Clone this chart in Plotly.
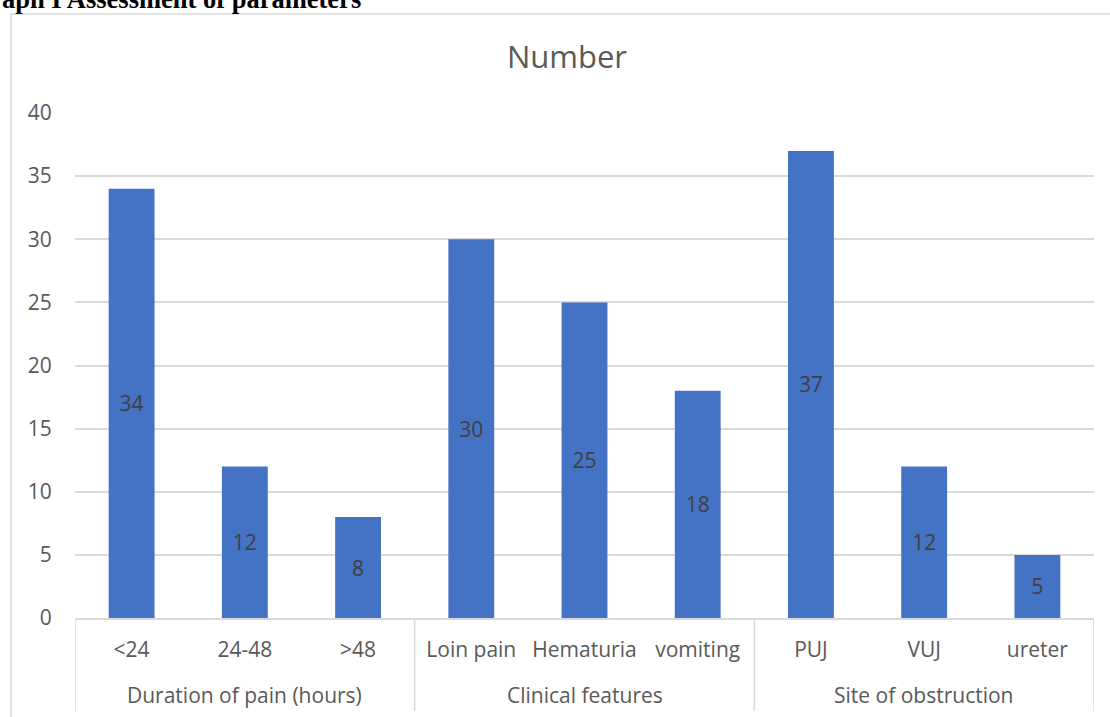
import plotly.graph_objects as go

# Chart data
categories = ["<24", "24-48", ">48", "Loin pain", "Hematuria", "vomiting", "PUJ", "VUJ", "ureter"]
values = [34, 12, 8, 30, 25, 18, 37, 12, 5]
groups = ["Duration of pain (hours)", "Clinical features", "Site of obstruction"]
group_sizes = [3, 3, 3]
y_ticks = [0, 5, 10, 15, 20, 25, 30, 35, 40]

W, H = 1110, 717
L, R, T, B = 75, 16, 113, 99
plot_w = W - L - R
plot_h = H - T - B

def px_x(p):
    return (p - L) / plot_w

def px_y(p):
    return (H - B - p) / plot_h

GRID = "#d9d9d9"
TXT = "#595959"
FONT = "Open Sans"

fig = go.Figure()
fig.add_trace(go.Bar(
    x=categories,
    y=values,
    marker=dict(color="#4472C4", line=dict(width=0)),
    text=[str(v) for v in values],
    textposition="inside",
    insidetextanchor="middle",
    textangle=0,
    textfont=dict(family=FONT, size=21, color="#404040"),
    showlegend=False,
    hoverinfo="skip",
))

shapes = []
# group divider lines under the category axis
start = 0
bounds = [-0.5]
for n in group_sizes:
    start += n
    bounds.append(start - 0.5)
for b in bounds:
    shapes.append(dict(type="line", xref="x", yref="paper", x0=b, x1=b,
                       y0=0, y1=px_y(711), line=dict(color=GRID, width=1.5)))
# outer chart frame
shapes.append(dict(type="rect", xref="paper", yref="paper",
                   x0=px_x(11), x1=px_x(1124), y0=px_y(730), y1=px_y(14),
                   line=dict(color=GRID, width=1.5), fillcolor="rgba(0,0,0,0)"))

annotations = []
start = 0
for g, n in zip(groups, group_sizes):
    center = start + (n - 1) / 2
    annotations.append(dict(text=g, xref="x", yref="paper", x=center, y=px_y(695),
                            xanchor="center", yanchor="middle", showarrow=False,
                            font=dict(family=FONT, size=21, color=TXT)))
    start += n
# page heading above the chart frame
annotations.append(dict(text="<b>aph I Assessment of parameters</b>", xref="paper", yref="paper",
                        x=px_x(0), y=px_y(16), xanchor="left", yanchor="bottom",
                        showarrow=False,
                        font=dict(family="Liberation Serif", size=26.5, color="#000000")))

fig.update_layout(
    width=W, height=H,
    margin=dict(l=L, r=R, t=T, b=B, pad=0),
    paper_bgcolor="white",
    plot_bgcolor="white",
    bargap=0.595,
    title=dict(text="Number", x=px_x(567), xref="paper", xanchor="center",
               y=1 - 57 / H, yref="container", yanchor="middle",
               font=dict(family=FONT, size=31, color=TXT)),
    xaxis=dict(type="category", range=[-0.5, 8.5], showgrid=False, zeroline=False,
               showline=True, linecolor=GRID, linewidth=1.5,
               ticks="outside", ticklen=12, tickcolor="rgba(0,0,0,0)",
               tickfont=dict(family=FONT, size=21, color=TXT), fixedrange=True),
    yaxis=dict(range=[0, 40], tickvals=y_ticks, showgrid=True, gridcolor=GRID, gridwidth=1.5,
               zeroline=False, showline=False,
               ticks="outside", ticklen=18, tickcolor="rgba(0,0,0,0)",
               tickfont=dict(family=FONT, size=21, color=TXT), fixedrange=True),
    shapes=shapes,
    annotations=annotations,
)

fig.write_html("out.html")
